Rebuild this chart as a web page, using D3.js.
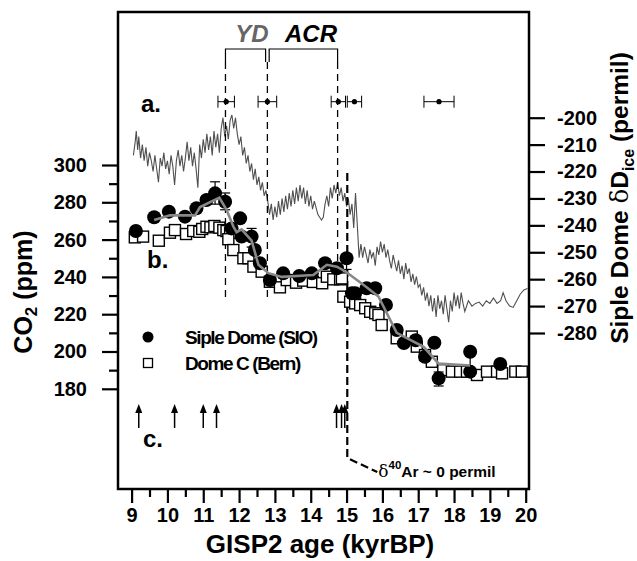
<!DOCTYPE html>
<html><head><meta charset="utf-8">
<script src="https://cdn.jsdelivr.net/npm/d3@7"></script>
<style>
body{margin:0;background:#fff;}
svg text{font-family:"Liberation Sans",Arial,sans-serif;font-weight:bold;}
</style></head>
<body><svg id="c" width="637" height="561"></svg>
<script>
// ---------- data ----------
const xTicks = [9,10,11,12,13,14,15,16,17,18,19,20];
const co2Ticks = [180,200,220,240,260,280,300];
const dDTicks = [-200,-210,-220,-230,-240,-250,-260,-270,-280];

// Siple Dome dD ice record [age kyrBP, permil]
const dDice = [[9.05,-214],[9.1,-209],[9.13,-205],[9.17,-212],[9.2,-207],[9.25,-215],[9.3,-210],[9.35,-216],[9.4,-211],[9.45,-218],[9.5,-213],[9.55,-216],[9.6,-220],[9.65,-214],[9.7,-219],[9.75,-224],[9.8,-215],[9.85,-218],[9.9,-213],[9.95,-219],[10.0,-216],[10.05,-221],[10.1,-214],[10.15,-218],[10.2,-225],[10.25,-216],[10.3,-212],[10.35,-218],[10.4,-214],[10.45,-220],[10.5,-215],[10.55,-209],[10.6,-216],[10.65,-211],[10.7,-218],[10.75,-213],[10.8,-219],[10.85,-226],[10.9,-210],[10.95,-215],[11.0,-208],[11.05,-213],[11.1,-206],[11.15,-212],[11.2,-207],[11.25,-214],[11.3,-205],[11.35,-211],[11.4,-206],[11.45,-213],[11.5,-204],[11.55,-200],[11.6,-207],[11.65,-203],[11.7,-208],[11.75,-201],[11.8,-199],[11.85,-204],[11.9,-200],[11.95,-206],[12.0,-210],[12.05,-207],[12.1,-214],[12.15,-211],[12.2,-217],[12.25,-214],[12.3,-220],[12.35,-217],[12.4,-223],[12.45,-219],[12.5,-225],[12.55,-222],[12.6,-227],[12.65,-224],[12.7,-229],[12.75,-227],[12.8,-231],[12.85,-236],[12.9,-232],[12.95,-238],[13.0,-233],[13.05,-237],[13.1,-231],[13.15,-236],[13.2,-230],[13.25,-235],[13.3,-229],[13.35,-234],[13.4,-228],[13.45,-233],[13.5,-227],[13.55,-232],[13.6,-226],[13.65,-231],[13.7,-225],[13.75,-230],[13.8,-226],[13.85,-232],[13.9,-227],[13.95,-233],[14.0,-229],[14.05,-234],[14.1,-231],[14.2,-236],[14.3,-238],[14.35,-237],[14.4,-232],[14.45,-229],[14.5,-233],[14.55,-226],[14.6,-230],[14.65,-225],[14.7,-228],[14.75,-224],[14.8,-229],[14.85,-226],[14.9,-231],[14.95,-228],[15.0,-233],[15.05,-230],[15.1,-236],[15.15,-232],[15.2,-241],[15.25,-228],[15.3,-240],[15.35,-252],[15.4,-247],[15.45,-252],[15.5,-248],[15.55,-251],[15.6,-254],[15.65,-249],[15.7,-252],[15.75,-250],[15.8,-255],[15.85,-248],[15.9,-251],[15.95,-246],[16.0,-250],[16.05,-247],[16.1,-252],[16.15,-249],[16.2,-253],[16.25,-256],[16.3,-251],[16.35,-254],[16.4,-257],[16.45,-253],[16.5,-258],[16.55,-255],[16.6,-260],[16.65,-254],[16.7,-258],[16.75,-256],[16.8,-261],[16.85,-258],[16.9,-262],[16.95,-259],[17.0,-263],[17.05,-262],[17.1,-266],[17.15,-263],[17.2,-268],[17.25,-265],[17.3,-270],[17.35,-266],[17.4,-272],[17.45,-267],[17.5,-274],[17.55,-266],[17.6,-271],[17.65,-268],[17.7,-273],[17.75,-266],[17.8,-271],[17.85,-276],[17.9,-268],[17.95,-272],[18.0,-265],[18.05,-270],[18.1,-266],[18.15,-271],[18.2,-265],[18.25,-269],[18.3,-272],[18.4,-268],[18.5,-270],[18.6,-269],[18.7,-268.5],[18.8,-270],[18.9,-268],[19.0,-269],[19.1,-267],[19.2,-269],[19.3,-268],[19.37,-265],[19.45,-268],[19.55,-270],[19.65,-270.5],[19.75,-268],[19.85,-265.5],[19.95,-264],[20.05,-263.5]];

// Siple Dome CO2 (SIO) [age, ppm]
const sipleCO2 = [[9.12,264.6],[9.63,272],[10.04,275],[10.49,272.3],[10.81,276.8],[11.09,281.2],[11.33,284.8],[11.61,280.3],[11.79,266],[12.03,271.4],[12.07,261.6],[12.35,261.6],[12.44,254.4],[12.58,247.3],[12.86,238.3],[13.23,241.9],[13.68,240.5],[14.03,241.9],[14.4,247.3],[14.73,244.6],[15.0,250],[15.15,231.2],[15.24,231.2],[15.56,233.9],[15.8,233.9],[16.1,225],[16.4,211.5],[16.6,204.5],[16.93,206],[17.19,197.2],[17.45,204.7],[17.57,185.6],[18.45,199.9],[18.45,189.2],[19.29,193.3]];
// Siple Dome error bars [age, low, high]
const sipleErr = [[11.33,279,291],[11.61,276,285],[12.35,256,266],[15.0,244,250],[17.57,181.5,189],[18.45,190,199]];
// Siple Dome smoothed CO2 [age, ppm]
const sipleSmooth = [[9.63,270.5],[10.07,273],[10.77,273],[10.91,277.5],[11.45,282.5],[11.65,276],[11.84,267],[11.93,264],[12.07,265.5],[12.35,259.5],[12.54,246.5],[12.82,242],[13.19,240],[14.07,241],[14.45,246.5],[14.73,245.5],[15.0,242.5],[15.56,234.5],[15.89,229.5],[16.4,210],[17.15,202.5],[17.57,193.5],[18.45,192.5]];
// Dome C CO2 (Bern) [age, ppm]
const domeC = [[9.09,261.2],[9.32,261.6],[9.76,259.4],[10.07,263.7],[10.21,265.1],[10.52,263],[10.72,264.6],[10.89,264.2],[10.97,265.7],[11.09,266.9],[11.2,266.6],[11.31,267.3],[11.45,266.4],[11.56,265.1],[11.65,264.6],[11.75,263.7],[11.7,260.2],[11.84,254.4],[12.12,250],[12.26,250],[12.4,245.5],[12.63,242.8],[12.86,237.4],[13.14,234.4],[13.33,238.3],[13.59,236.9],[13.79,238],[14.06,237.3],[14.32,236.6],[14.45,240.1],[14.63,238.7],[14.82,238.7],[14.87,239.2],[14.91,229.4],[15.1,226.7],[15.24,225.8],[15.38,224.9],[15.52,223.2],[15.66,221.3],[15.8,220.5],[15.89,219.6],[15.98,214.2],[16.4,207.1],[16.82,208],[16.96,202.6],[17.19,198.1],[17.38,194.5],[17.7,190],[17.94,189.2],[18.17,189.2],[18.36,189.2],[18.64,187.4],[18.92,189.2],[19.2,189.2],[19.34,188.3],[19.71,189.2],[19.89,189.2]];

// Event ages (YD start, YD end/ACR start, ACR end) and d40Ar ~ 0 age
const eventAges = [11.62, 12.79, 14.75];
const ar40Age = 15.02;
// Top age-control points [age, half-width]
const ageControl = [[11.64,0.23],[12.79,0.26],[14.77,0.2],[15.22,0.2],[17.58,0.42]];
// Arrows (panel c) ages
const arrowAges = [9.2, 10.2, 11.0, 11.37, 14.72, 14.86, 14.95];

// ---------- layout ----------
const svg = d3.select("#c");
const L = 118, R = 529, T = 12, B = 489;
const x = d3.scaleLinear().domain([9,20]).range([131.6,525.7]);
const yC = d3.scaleLinear().domain([180,300]).range([388.8,165]);
const yD = d3.scaleLinear().domain([-280,-200]).range([333,117.7]);

svg.append("rect").attr("width",637).attr("height",561).attr("fill","#fff");
svg.append("defs").append("clipPath").attr("id","clip").append("rect")
  .attr("x",L).attr("y",T).attr("width",R-L).attr("height",B-T);

const g = svg.append("g").attr("clip-path","url(#clip)");

// dD line
g.append("path").datum(dDice)
  .attr("d", d3.line().x(d=>x(d[0])).y(d=>yD(d[1])))
  .attr("fill","none").attr("stroke","#505050").attr("stroke-width",1.1);

// dashed event lines
const evEnd = [297, 300, 285];
eventAges.forEach((a,i)=>{
  g.append("line").attr("x1",x(a)).attr("x2",x(a)).attr("y1",62).attr("y2",evEnd[i])
   .attr("stroke","#000").attr("stroke-width",1.3).attr("stroke-dasharray","7,5");
});
// brackets
const br = [[eventAges[0],12.74],[12.84,eventAges[2]]];
br.forEach(b=>{
  g.append("path").attr("d",`M${x(b[0])},62 V49 H${x(b[1])} V62`)
   .attr("fill","none").attr("stroke","#000").attr("stroke-width",1.2);
});
svg.append("text").attr("x",252).attr("y",42).attr("text-anchor","middle")
  .attr("font-size",24).attr("font-style","italic").attr("fill","#666").text("YD");
svg.append("text").attr("x",311).attr("y",42).attr("text-anchor","middle")
  .attr("font-size",24).attr("font-style","italic").attr("fill","#000").text("ACR");

// d40Ar thick dashed line
g.append("path").attr("d",`M${x(ar40Age)},173 V458 L${x(ar40Age)+30},472`)
  .attr("fill","none").attr("stroke","#000").attr("stroke-width",2.2).attr("stroke-dasharray","8,4");
const arT = svg.append("text").attr("x",x(ar40Age)+31).attr("y",477).attr("font-size",15.5);
arT.append("tspan").attr("font-family","DejaVu Serif, serif").attr("font-weight","normal").attr("font-size",17).text("δ");
arT.append("tspan").attr("dy",-8).attr("font-size",11.5).text("40");
arT.append("tspan").attr("dy",8).text("Ar ~ 0 permil");

// age control error bars
const ac = g.append("g");
ageControl.forEach(d=>{
  const y0 = 101.7;
  ac.append("line").attr("x1",x(d[0]-d[1])).attr("x2",x(d[0]+d[1])).attr("y1",y0).attr("y2",y0).attr("stroke","#000").attr("stroke-width",1);
  [d[0]-d[1], d[0]+d[1]].forEach(e=>ac.append("line").attr("x1",x(e)).attr("x2",x(e)).attr("y1",y0-6).attr("y2",y0+6).attr("stroke","#000").attr("stroke-width",1));
  ac.append("circle").attr("cx",x(d[0])).attr("cy",y0).attr("r",2.6).attr("fill","#000");
});

// Dome C squares
g.append("g").selectAll("rect").data(domeC).join("rect")
  .attr("x",d=>x(d[0])-5.5).attr("y",d=>yC(d[1])-5.5).attr("width",11).attr("height",11)
  .attr("fill","#fff").attr("stroke","#000").attr("stroke-width",1.4);
// Siple error bars
sipleErr.forEach(d=>{
  g.append("line").attr("x1",x(d[0])).attr("x2",x(d[0])).attr("y1",yC(d[1])).attr("y2",yC(d[2])).attr("stroke","#000").attr("stroke-width",1.2);
  [d[1],d[2]].forEach(v=>g.append("line").attr("x1",x(d[0])-5).attr("x2",x(d[0])+5).attr("y1",yC(v)).attr("y2",yC(v)).attr("stroke","#000").attr("stroke-width",1.2));
});
// Siple circles
g.append("g").selectAll("circle").data(sipleCO2).join("circle")
  .attr("cx",d=>x(d[0])).attr("cy",d=>yC(d[1])).attr("r",7).attr("fill","#000");
// smoothed line
g.append("path").datum(sipleSmooth)
  .attr("d", d3.line().x(d=>x(d[0])).y(d=>yC(d[1])))
  .attr("fill","none").attr("stroke","#888").attr("stroke-width",2.6);

// arrows
arrowAges.forEach(a=>{
  const ax = x(a);
  g.append("line").attr("x1",ax).attr("x2",ax).attr("y1",428).attr("y2",411)
   .attr("stroke","#000").attr("stroke-width",1.5);
  g.append("path").attr("d",`M${ax-3.5},413 L${ax},404 L${ax+3.5},413 Z`).attr("fill","#000");
});

// panel labels
[["a.",141,112],["b.",147,268],["c.",143,447]].forEach(t=>
  svg.append("text").attr("x",t[1]).attr("y",t[2]).attr("font-size",24).text(t[0]));

// legend
svg.append("circle").attr("cx",148).attr("cy",337).attr("r",5.5).attr("fill","#000");
svg.append("rect").attr("x",143.5).attr("y",358.5).attr("width",9).attr("height",9).attr("fill","#fff").attr("stroke","#000").attr("stroke-width",1.3);
svg.append("text").attr("x",185).attr("y",343.5).attr("font-size",19).attr("letter-spacing",-1.4).text("Siple Dome (SIO)");
svg.append("text").attr("x",185).attr("y",369.5).attr("font-size",19).attr("letter-spacing",-1.4).text("Dome C (Bern)");

// frame
svg.append("rect").attr("x",L).attr("y",T).attr("width",R-L).attr("height",B-T)
  .attr("fill","none").attr("stroke","#000").attr("stroke-width",2.5);

// axes
function style(sel){
  sel.select(".domain").remove();
  sel.selectAll("line").attr("stroke","#000").attr("stroke-width",2.2);
  sel.selectAll("text").attr("font-size",20).attr("fill","#000");
}
svg.append("g").attr("transform",`translate(${L},0)`)
  .call(d3.axisLeft(yC).tickValues(co2Ticks).tickSize(16).tickPadding(15).tickFormat(d3.format("d"))).call(style);
svg.append("g").attr("transform",`translate(${L},0)`)
  .call(d3.axisLeft(yC).tickValues([190,210,230,250,270,290]).tickSize(9).tickFormat("")).call(style);
svg.append("g").attr("transform",`translate(0,${B})`)
  .call(d3.axisBottom(x).tickValues(xTicks).tickSize(14).tickPadding(5).tickFormat(d3.format("d"))).call(style);
svg.append("g").attr("transform",`translate(0,${B})`)
  .call(d3.axisBottom(x).tickValues(d3.range(9.5,20,1)).tickSize(8).tickFormat("")).call(style);
const ra = svg.append("g").attr("transform",`translate(${R},0)`)
  .call(d3.axisRight(yD).tickValues(dDTicks).tickSize(16).tickPadding(12).tickFormat(d3.format("d"))).call(style);
ra.selectAll("text").text(d=>"-"+Math.abs(d));

// axis titles
svg.append("text").attr("x",320).attr("y",553).attr("text-anchor","middle").attr("font-size",26).text("GISP2 age (kyrBP)");
const lt = svg.append("text").attr("transform","translate(32,292) rotate(-90)").attr("text-anchor","middle").attr("font-size",25);
lt.append("tspan").text("CO");
lt.append("tspan").attr("font-size",17).attr("dy",5).text("2");
lt.append("tspan").attr("dy",-5).text(" (ppm)");
const rt = svg.append("text").attr("transform","translate(628,198) rotate(-90)").attr("text-anchor","middle").attr("font-size",24.5);
rt.append("tspan").text("Siple Dome ");
rt.append("tspan").attr("font-family","DejaVu Serif, serif").attr("font-weight","normal").text("δ");
rt.append("tspan").text("D");
rt.append("tspan").attr("font-size",16).attr("dy",6).text("ice");
rt.append("tspan").attr("dy",-6).text(" (permil)");
</script></body></html>
